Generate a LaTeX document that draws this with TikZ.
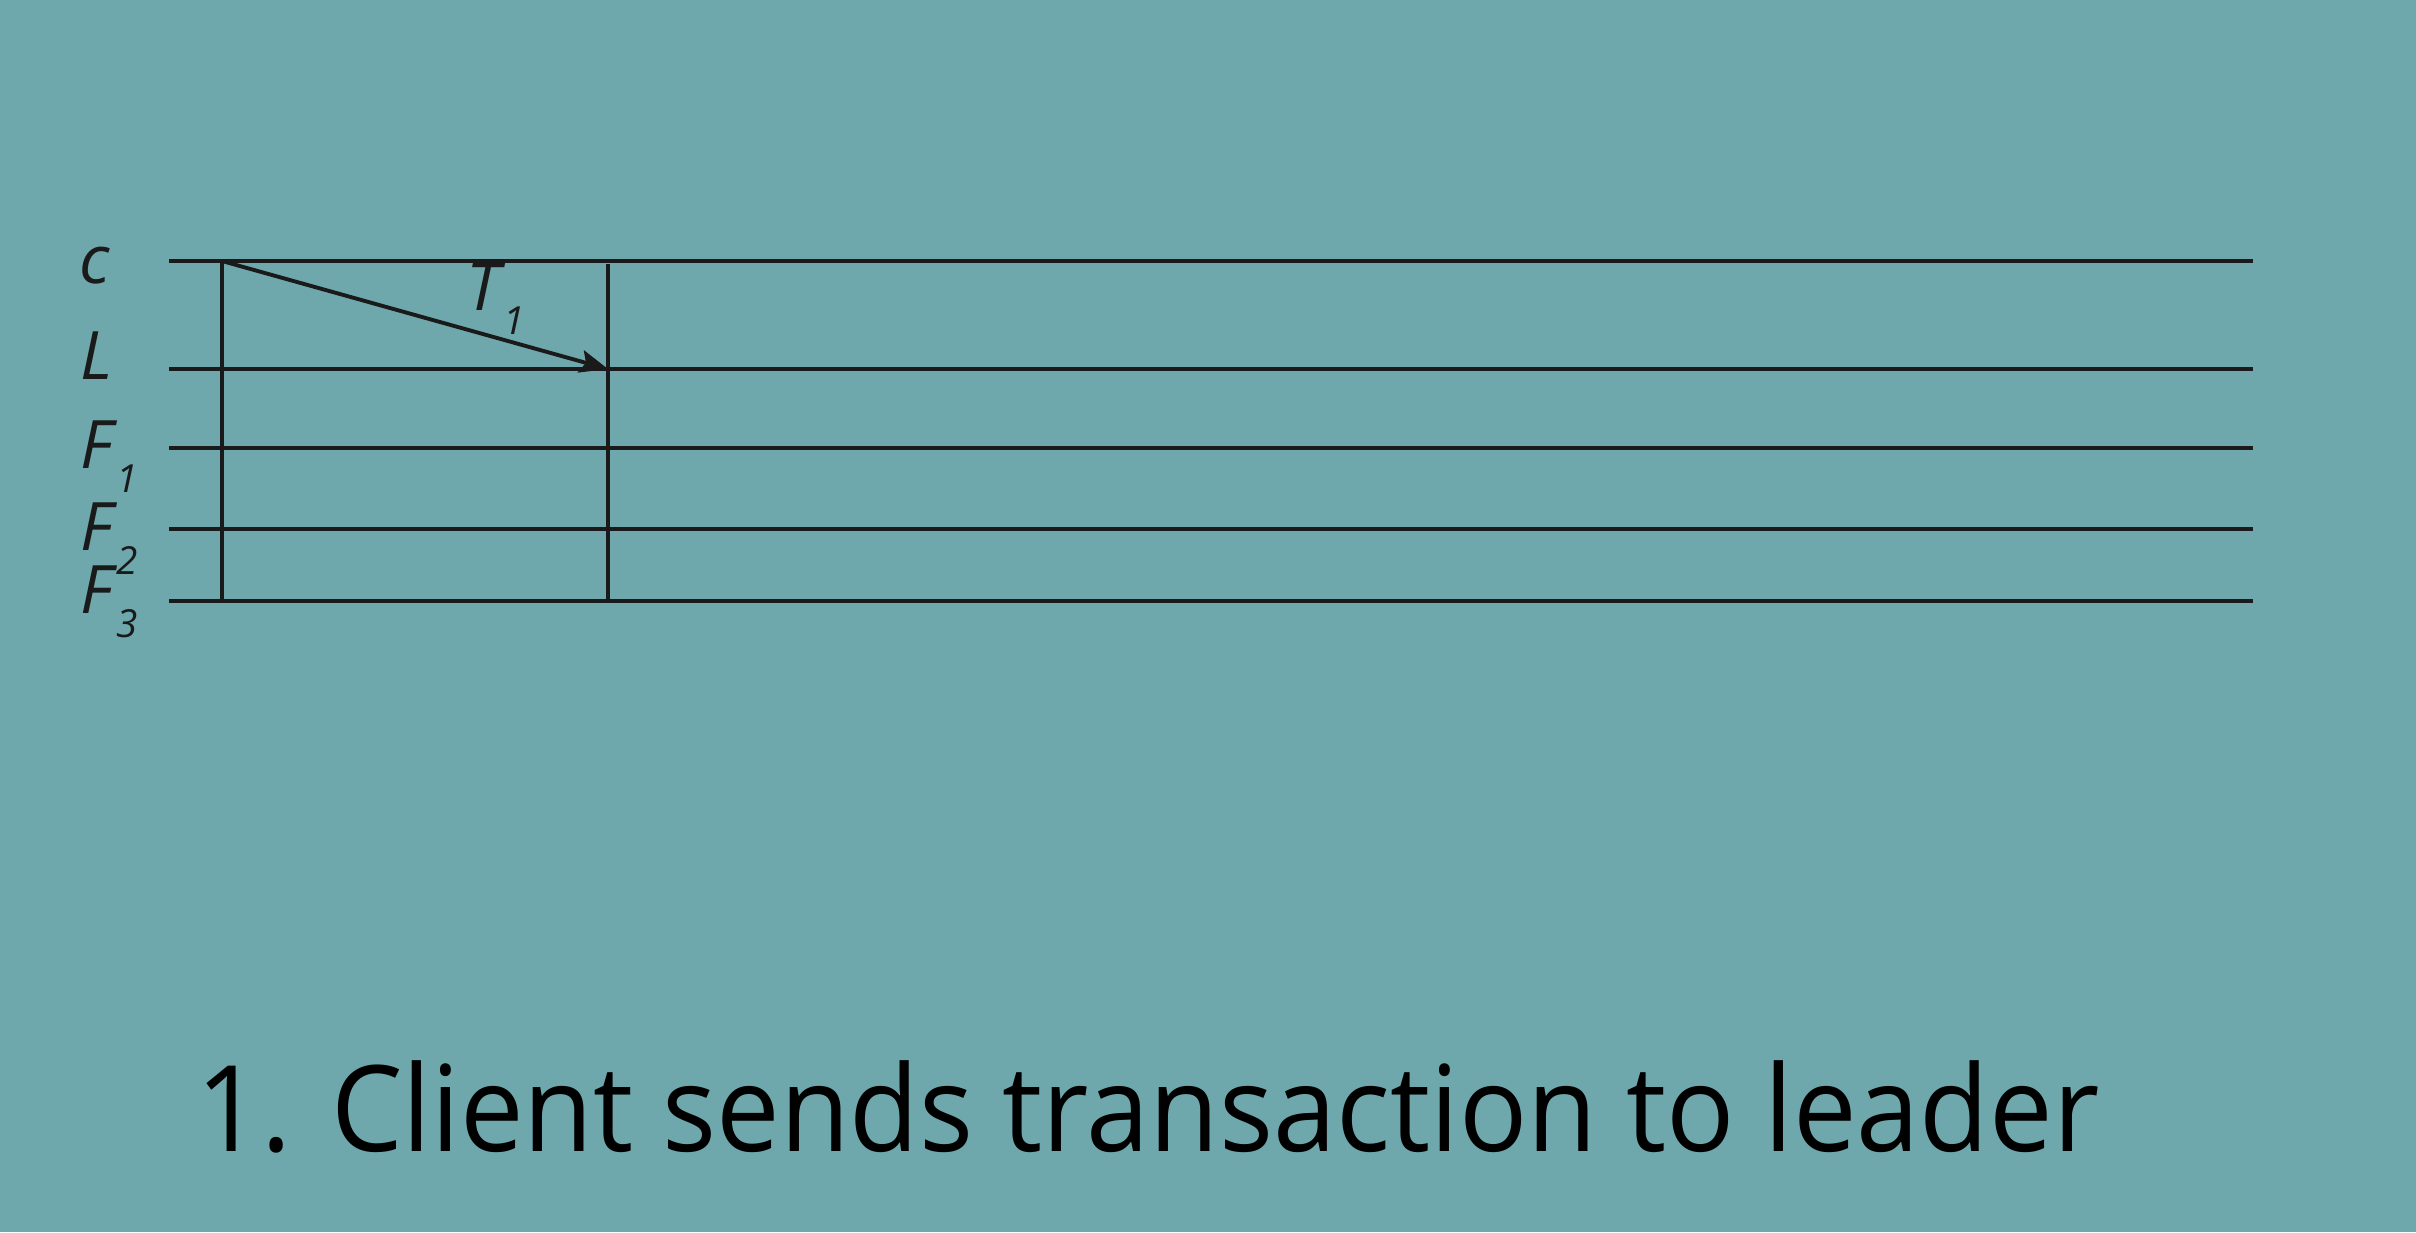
\documentclass[tikz,border=0pt]{standalone}
\usepackage{fontspec}
\setmainfont{Open Sans}
\usetikzlibrary{arrows.meta}
\definecolor{slide}{RGB}{110,168,172}
\definecolor{ink}{RGB}{26,26,26}
\newcommand{\lowsub}[2]{#1\kern1pt\raisebox{-7.1pt}{\fontsize{11}{13}\selectfont #2}}
\begin{document}
\begin{tikzpicture}[x=0.01cm,y=-0.01cm,line width=1.1pt,
    lane/.style={draw=ink},
    tick/.style={draw=ink},
    msg/.style={draw=ink,-{Stealth[length=8pt,width=6.5pt,inset=1.5pt]}},
    proc label/.style={anchor=base west,inner sep=0pt,text=ink,font=\fontsize{19}{22}\selectfont\itshape},
    caption/.style={anchor=base west,inner sep=0pt,text=black,font=\fontsize{34}{40}\selectfont}]
    \fill[slide] (0,0) rectangle (2416,1232);

    % lane ends
    \coordinate (c-w) at (169,261);  \coordinate (c-e) at (2253,261);
    \coordinate (L-w) at (169,369);  \coordinate (L-e) at (2253,369);
    \coordinate (F1-w) at (169,448); \coordinate (F1-e) at (2253,448);
    \coordinate (F2-w) at (169,529); \coordinate (F2-e) at (2253,529);
    \coordinate (F3-w) at (169,601); \coordinate (F3-e) at (2253,601);

    % lane labels
    \node[proc label] (c) at (78,283) {c};
    \node[proc label] (L) at (79,379) {L};
    \node[proc label] (F1) at (79,468) {\lowsub{F}{1}};
    \node[proc label] (F2) at (79,550) {\lowsub{F}{2}};
    \node[proc label] (F3) at (79,613) {\lowsub{F}{3}};

    \path[lane]
        (c-w) edge (c-e)
        (L-w) edge (L-e)
        (F1-w) edge (F1-e)
        (F2-w) edge (F2-e)
        (F3-w) edge (F3-e);

    % time marks
    \coordinate (t0-top) at (222,261); \coordinate (t0-bot) at (222,601);
    \coordinate (t1-top) at (608,264); \coordinate (t1-bot) at (608,601);
    \coordinate (t1-L) at (608,369);
    \draw[tick] (t0-top) -- (t0-bot);
    \draw[tick] (t1-top) -- (t1-bot);

    % client to leader
    \draw[msg] (t0-top) -- (t1-L);
    \node[proc label] (T1) at (465,310) {\lowsub{T}{1}};

    \node[caption] (step) at (195,1151) {\scalebox{0.948}[1]{1. Client sends transaction to leader}};
\end{tikzpicture}
\end{document}
